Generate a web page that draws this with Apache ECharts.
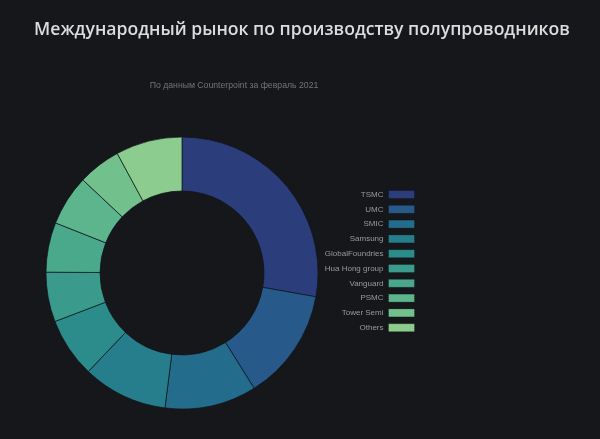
<!DOCTYPE html>
<html>
<head>
<meta charset="utf-8">
<script src="https://cdn.jsdelivr.net/npm/echarts@6/dist/echarts.min.js"></script>
<style>
html,body{margin:0;padding:0;background:#16171b;}
#c{width:600px;height:439px;}
</style>
</head>
<body>
<div id="c"></div>
<script>
const titleText = 'Международный рынок по производству полупроводников';
const subtitleText = 'По данным Counterpoint за февраль 2021';
const categories = ['TSMC','UMC','SMIC','Samsung','GlobalFoundries','Hua Hong group','Vanguard','PSMC','Tower Semi','Others'];
const shares = [27.8, 13.3, 10.9, 10.1, 7.1, 5.9, 5.9, 6.0, 5.1, 7.9];
const colors = ['#2c3d7c','#275a8b','#246c8c','#267d8c','#2c8c8b','#3a9a8b','#4aa88b','#5cb58c','#72c18d','#8ccc8e'];

const chart = echarts.init(document.getElementById('c'), null, {renderer:'canvas'});
chart.setOption({
  backgroundColor: '#16171b',
  animation: false,
  title: [
    {text: titleText, left: 297, top: 16, textAlign: 'center',
     textStyle: {color:'#dcdcdc', fontSize: 17.6, fontWeight: 600, fontFamily: 'Open Sans'}},
    {text: subtitleText, left: 229, top: 76, textAlign: 'center',
     textStyle: {color:'#747474', fontSize: 8.7, fontWeight: 'normal', fontFamily: 'Liberation Sans'}}
  ],
  legend: {
    orient: 'vertical', right: 180, top: 185, align: 'right',
    itemWidth: 26, itemHeight: 8, itemGap: 5.8, icon: 'rect',
    data: categories,
    itemStyle: {borderColor: 'rgba(0,0,0,0.45)', borderWidth: 1, borderType: 'dotted'},
    textStyle: {color:'#9a9a9a', fontSize: 8, fontFamily: 'Liberation Sans', padding:[0,0,0,0]}
  },
  series: [{
    type: 'pie',
    center: [182, 273],
    radius: [82, 136],
    startAngle: 90,
    clockwise: true,
    label: {show:false},
    labelLine: {show:false},
    itemStyle: {borderColor: 'rgba(15,20,25,0.7)', borderWidth: 1},
    data: categories.map((c,i)=>({name:c, value:shares[i], itemStyle:{color:colors[i]}}))
  }]
});
</script>
</body>
</html>
